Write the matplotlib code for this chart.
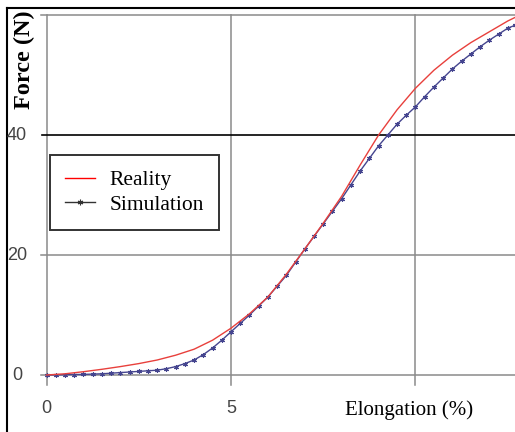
import matplotlib
matplotlib.use("Agg")
import matplotlib.pyplot as plt
from matplotlib.lines import Line2D

# ---- data ----
reality_x = [0, 0.5, 1, 1.5, 2, 2.5, 3, 3.5, 4, 4.5, 5, 5.5, 6, 6.5, 7, 7.5,
             8, 8.5, 9, 9.5, 10, 10.5, 11, 11.5, 12, 12.5, 12.7]
reality_y = [0, 0.2, 0.55, 0.95, 1.4, 1.9, 2.5, 3.3, 4.3, 5.8, 7.8, 10.2, 13,
             16.8, 21, 25.3, 29.8, 35, 40, 44.2, 47.8, 50.8, 53.3, 55.4, 57.2,
             59.0, 59.6]
sim_x = [0, 0.25, 0.5, 0.75, 1, 1.25, 1.5, 1.75, 2, 2.25, 2.5, 2.75, 3, 3.25,
         3.5, 3.75, 4, 4.25, 4.5, 4.75, 5, 5.25, 5.5, 5.75, 6, 6.25, 6.5, 6.75,
         7, 7.25, 7.5, 7.75, 8, 8.25, 8.5, 8.75, 9, 9.25, 9.5, 9.75, 10, 10.25,
         10.5, 10.75, 11, 11.25, 11.5, 11.75, 12, 12.25, 12.5, 12.7]
sim_y = [0, 0.02, 0.05, 0.08, 0.1, 0.15, 0.2, 0.3, 0.4, 0.5, 0.6, 0.7, 0.8,
         1.05, 1.4, 1.9, 2.5, 3.4, 4.5, 5.8, 7.2, 8.6, 10, 11.5, 13, 14.8, 16.6,
         18.8, 21, 23.1, 25.2, 27.3, 29.4, 31.7, 34, 36.1, 38.2, 40.0, 41.8,
         43.3, 44.7, 46.4, 48, 49.5, 51, 52.3, 53.5, 54.7, 55.8, 56.8, 57.8, 58.3]
x_ticks = [0, 5]
y_ticks = [0, 20, 40]
x_grid = [0, 5, 10]
y_grid = [0, 20, 60]
y_grid_black = [40]

W, H = 515, 432
fig = plt.figure(figsize=(W / 100, H / 100), dpi=100)

# axes geometry in pixels
x0_px, px_per_x = 46.5, 36.9
y0_px, px_per_y = 375, 6.0
xmin, xmax = -0.2, (W - x0_px) / px_per_x
ymin, ymax = -1.2, 62
left = (x0_px + xmin * px_per_x) / W
width = (xmax - xmin) * px_per_x / W
bottom = (H - y0_px + ymin * px_per_y) / H
height = (ymax - ymin) * px_per_y / H
ax = fig.add_axes([left, bottom, width, height])
ax.set_xlim(xmin, xmax)
ax.set_ylim(ymin, ymax)
for s in ax.spines.values():
    s.set_visible(False)
ax.set_xticks([])
ax.set_yticks([])

for gx in x_grid:
    ax.plot([gx, gx], [-1.6, 60], color='#8a8a8a', lw=1.1, zorder=1, clip_on=False)
for gy in y_grid:
    ax.plot([-0.15, xmax], [gy, gy], color='#8a8a8a', lw=1.1, zorder=1, clip_on=False)
for gy in y_grid_black:
    ax.plot([-0.12, xmax], [gy, gy], color='black', lw=1.2, zorder=1, clip_on=False)

ax.plot(reality_x, reality_y, color='#e8403c', lw=1.0, zorder=3, label='Reality')
ax.plot(sim_x, sim_y, color='#45458f', lw=1.0, marker=(6, 2, 0), ms=3.5,
        mew=0.8, zorder=2, label='Simulation')

tick_font = ['Liberation Sans Narrow', 'Liberation Sans', 'DejaVu Sans']
for tx in x_ticks:
    ax.text(tx, -5.65, str(tx), ha='center', va='center', fontsize=13,
            family=tick_font, color='#444444')
for ty in y_ticks:
    fig.text(17 / W, 1 - (y0_px - ty * px_per_y) / H, str(ty), ha='center',
             va='center', fontsize=13, family=tick_font, color='#444444')

fig.text(24 / W, 1 - 60 / H, 'Force (N)', rotation=90, ha='center', va='center',
         fontsize=17.5, family='Liberation Serif', fontweight='bold')
fig.text(409 / W, 1 - 410 / H, 'Elongation (%)', ha='center', va='center',
         fontsize=15, family='Liberation Serif')

handles = [Line2D([], [], color='red', lw=1.0),
           Line2D([], [], color='#333333', lw=1.0, marker=(6, 2, 0), ms=4, mew=0.8)]
ax_top_px = H - (bottom + height) * H
leg = ax.legend(handles, ['Reality', 'Simulation'], loc='upper left',
                bbox_to_anchor=((50 - left * W) / (width * W),
                                1 - (155 - ax_top_px) / (height * H)),
                prop={'family': 'Liberation Serif', 'size': 15.5},
                frameon=True, fancybox=False, edgecolor='black',
                handlelength=1.4, borderpad=0.7, labelspacing=0.2,
                handletextpad=0.65, borderaxespad=0)
leg.get_frame().set_linewidth(1.4)
leg.set_zorder(5)

# outer frame lines
fig.add_artist(Line2D([7 / W, 1], [1 - 8 / H, 1 - 8 / H], color='black', lw=1.5))
fig.add_artist(Line2D([7 / W, 7 / W], [0, 1 - 8 / H], color='black', lw=1.5))

fig.savefig('out.png', dpi=100)
